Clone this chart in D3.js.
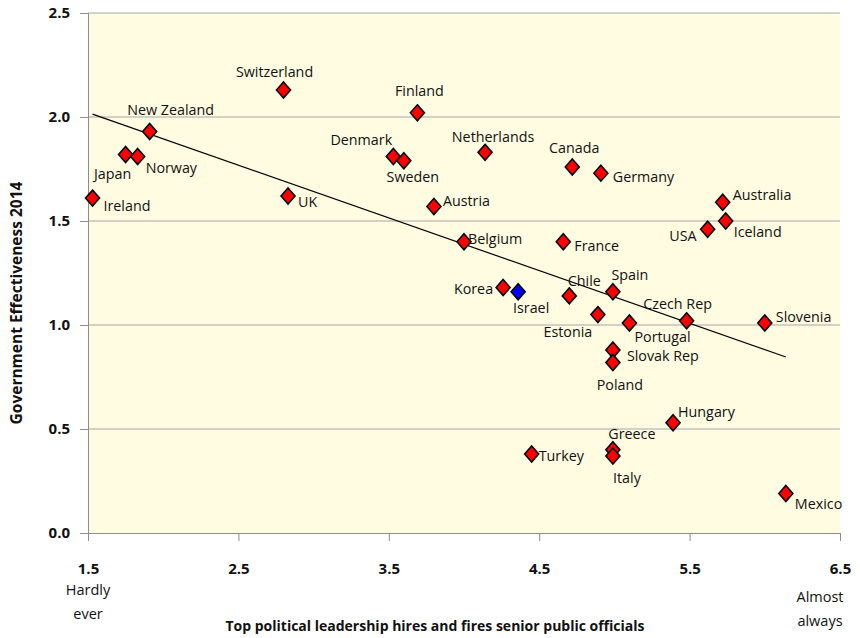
<!DOCTYPE html>
<html>
<head>
<meta charset="utf-8">
<script src="https://cdn.jsdelivr.net/npm/d3@7"></script>
<style>
  body { margin: 0; background: #fff; }
  text { font-family: "Open Sans", Lato, sans-serif; fill: #111; }
</style>
</head>
<body>
<div id="chart"></div>
<script>
// data
const countries = ["Ireland", "Japan", "Norway", "New Zealand", "Switzerland", "UK", "Finland",
  "Denmark", "Sweden", "Netherlands", "Austria", "Belgium", "Canada", "Germany", "Australia",
  "Iceland", "USA", "France", "Chile", "Spain", "Israel", "Korea", "Estonia", "Portugal",
  "Czech Rep", "Slovenia", "Slovak Rep", "Poland", "Hungary", "Greece", "Italy", "Turkey", "Mexico"]
const hiresFires = [1.53, 1.75, 1.83, 1.91, 2.80, 2.83, 3.69,
  3.53, 3.60, 4.14, 3.80, 4.00, 4.72, 4.91, 5.72,
  5.74, 5.62, 4.66, 4.70, 4.99, 4.36, 4.26, 4.89, 5.10,
  5.48, 6.00, 4.99, 4.99, 5.39, 4.99, 4.99, 4.45, 6.14]
const govEffect = [1.61, 1.82, 1.81, 1.93, 2.13, 1.62, 2.02,
  1.81, 1.79, 1.83, 1.57, 1.40, 1.76, 1.73, 1.59,
  1.50, 1.46, 1.40, 1.14, 1.16, 1.16, 1.18, 1.05, 1.01,
  1.02, 1.01, 0.88, 0.82, 0.53, 0.40, 0.37, 0.38, 0.19]
const highlighted = ["Israel"]
const trendX = [1.53, 6.14]
const trendY = [2.014, 0.846]
const xTicks = [1.5, 2.5, 3.5, 4.5, 5.5, 6.5]
const yTicks = [0.0, 0.5, 1.0, 1.5, 2.0, 2.5]

// label placement: [dx, dy, anchor]
const labelPos = {
  "Ireland": [11, 8, "start"], "Japan": [-13, 20, "middle"], "Norway": [8, 11, "start"],
  "New Zealand": [21, -22, "middle"], "Switzerland": [-9, -18, "middle"], "UK": [10, 6, "start"],
  "Finland": [2, -22, "middle"], "Denmark": [-32, -17, "middle"], "Sweden": [9, 16, "middle"],
  "Netherlands": [8, -15, "middle"], "Austria": [9, -5, "start"], "Belgium": [4, -3, "start"],
  "Canada": [2, -19, "middle"], "Germany": [12, 4, "start"], "Australia": [10, -7, "start"],
  "Iceland": [8, 11, "start"], "USA": [-11, 7, "end"], "France": [11, 4, "start"],
  "Chile": [15, -15, "middle"], "Spain": [17, -17, "middle"], "Israel": [13, 16, "middle"],
  "Korea": [-10, 1, "end"], "Estonia": [-30, 17, "middle"], "Portugal": [5, 14, "start"],
  "Czech Rep": [-9, -17, "middle"], "Slovenia": [11, -6, "start"], "Slovak Rep": [14, 6, "start"],
  "Poland": [7, 23, "middle"], "Hungary": [5, -11, "start"], "Greece": [19, -16, "middle"],
  "Italy": [14, 22, "middle"], "Turkey": [7, 2, "start"], "Mexico": [9, 11, "start"]
}

const width = 860
const height = 638
const margin = { top: 13, right: 20, bottom: 105, left: 88 }

const svg = d3.select("#chart").append("svg")
  .attr("width", width)
  .attr("height", height)

const x = d3.scaleLinear().domain([1.5, 6.5]).range([margin.left, width - margin.right])
const y = d3.scaleLinear().domain([0, 2.5]).range([height - margin.bottom, margin.top])

// plot background
svg.append("rect")
  .attr("x", x(1.5)).attr("y", y(2.5))
  .attr("width", x(6.5) - x(1.5)).attr("height", y(0) - y(2.5))
  .attr("fill", "#fffce1")

// gridlines
svg.append("g").selectAll("line")
  .data(yTicks.filter(d => d > 0))
  .enter().append("line")
    .attr("x1", x(1.5)).attr("x2", x(6.5))
    .attr("y1", d => y(d)).attr("y2", d => y(d))
    .attr("stroke", "#a6a6a6").attr("stroke-width", 1)

// y axis
const yAxis = svg.append("g")
  .attr("transform", `translate(${x(1.5)},0)`)
  .call(d3.axisLeft(y).tickValues(yTicks).tickFormat(d3.format(".1f")).tickSize(8).tickPadding(10))
yAxis.select(".domain").attr("stroke", "#8c8c8c")
yAxis.selectAll(".tick line").attr("stroke", "#8c8c8c")
yAxis.selectAll(".tick text")
  .style("font-family", "'Open Sans', sans-serif").style("font-size", "15px").style("font-weight", "bold")
  .attr("fill", "#111")

// x axis
const xAxis = svg.append("g")
  .attr("transform", `translate(0,${y(0)})`)
  .call(d3.axisBottom(x).tickValues(xTicks).tickFormat(d3.format(".1f")).tickSize(8).tickPadding(22))
xAxis.select(".domain").attr("stroke", "#8c8c8c")
xAxis.selectAll(".tick line").attr("stroke", "#8c8c8c")
xAxis.selectAll(".tick text")
  .style("font-family", "'Open Sans', sans-serif").style("font-size", "15px").style("font-weight", "bold")
  .attr("fill", "#111")

// trend line
svg.append("line")
  .attr("x1", x(trendX[0])).attr("y1", y(trendY[0]))
  .attr("x2", x(trendX[1])).attr("y2", y(trendY[1]))
  .attr("stroke", "#000").attr("stroke-width", 1.2)

const points = countries.map((c, i) => ({ name: c, x: hiresFires[i], y: govEffect[i] }))

// diamonds
const diamond = "M0,-8L7,0L0,8L-7,0Z"
svg.append("g").selectAll("path")
  .data(points)
  .enter().append("path")
    .attr("d", diamond)
    .attr("transform", d => `translate(${x(d.x)},${y(d.y)})`)
    .attr("fill", d => highlighted.includes(d.name) ? "#0000ff" : "#ff0000")
    .attr("stroke", "#000").attr("stroke-width", 1.6)

// labels
svg.append("g").selectAll("text")
  .data(points)
  .enter().append("text")
    .attr("x", d => x(d.x) + labelPos[d.name][0])
    .attr("y", d => y(d.y) + labelPos[d.name][1])
    .attr("dy", "0.35em")
    .attr("text-anchor", d => labelPos[d.name][2])
    .style("font-size", "14.3px")
    .text(d => d.name)

// axis titles
svg.append("text")
  .attr("transform", `translate(17,303) rotate(-90)`)
  .attr("text-anchor", "middle").attr("dy", "0.35em")
  .style("font-size", "15.5px").style("font-weight", "bold")
  .text("Government Effectiveness 2014")

svg.append("text")
  .attr("x", 435).attr("y", 626).attr("dy", "0.35em")
  .attr("text-anchor", "middle")
  .style("font-size", "14px").style("font-weight", "bold")
  .text("Top political leadership hires and fires senior public officials")

const ends = [["Hardly", "ever", x(1.5), 590], ["Almost", "always", 820, 597]]
ends.forEach(([a, b, cx, cy]) => {
  const t = svg.append("text").attr("text-anchor", "middle").style("font-size", "14.5px")
  t.append("tspan").attr("x", cx).attr("y", cy).attr("dy", "0.35em").text(a)
  t.append("tspan").attr("x", cx).attr("y", cy + 24).attr("dy", "0.35em").text(b)
})
</script>
</body>
</html>
